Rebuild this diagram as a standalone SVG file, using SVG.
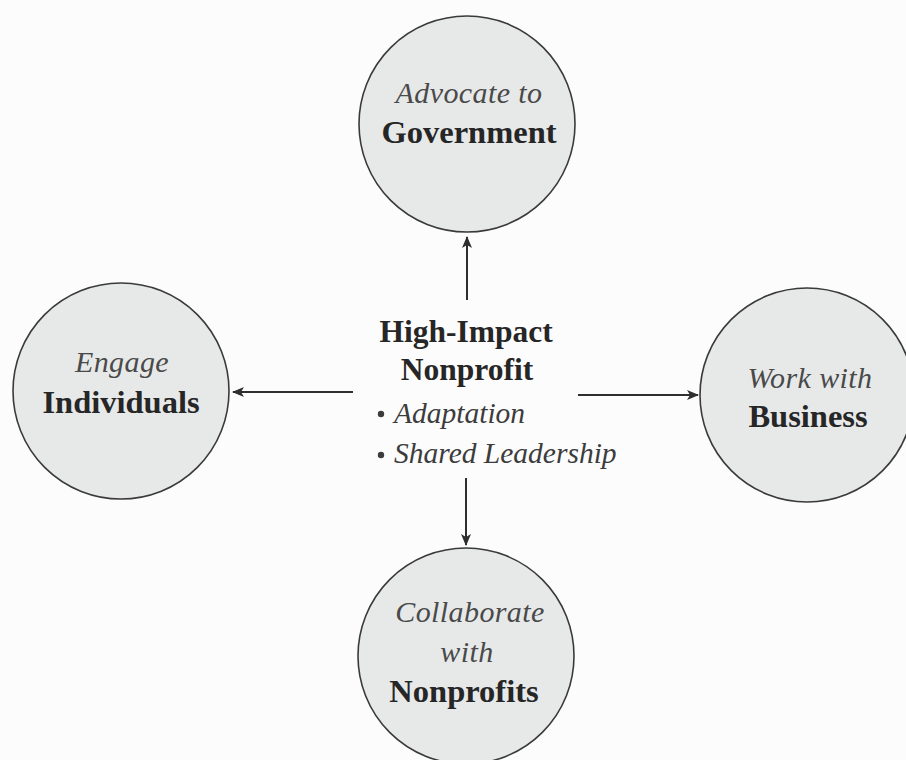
<svg xmlns="http://www.w3.org/2000/svg" width="906" height="760" viewBox="0 0 906 760">
  <defs>
    <marker id="arrow" viewBox="0 0 12 10" refX="11" refY="5" markerWidth="12" markerHeight="10" markerUnits="userSpaceOnUse" orient="auto">
      <path d="M0,0 L12,5 L0,10 L3,5 Z" fill="#2e2e2e"/>
    </marker>
  </defs>
  <style>
    .bg { fill: #fcfcfc; }
    .disc { fill: #e7e9e9; stroke: #3a3a3a; stroke-width: 1.6; }
    .lead { font-family: "Liberation Serif", "Times New Roman", serif; font-style: italic; font-size: 30px; letter-spacing: 0.4px; fill: #4a4a4a; text-anchor: middle; }
    .main { font-family: "Liberation Serif", "Times New Roman", serif; font-weight: bold; font-size: 32.5px; fill: #262626; text-anchor: middle; }
    .hub { font-family: "Liberation Serif", "Times New Roman", serif; font-weight: bold; font-size: 31.5px; fill: #262626; text-anchor: middle; }
    .item { font-family: "Liberation Serif", "Times New Roman", serif; font-style: italic; font-size: 29.5px; fill: #3c3c3c; }
    .dot { fill: #3c3c3c; }
    .link { stroke: #2e2e2e; stroke-width: 2; fill: none; marker-end: url(#arrow); }
  </style>

  <rect class="bg" x="0" y="0" width="906" height="760"/>

  <!-- connectors from the hub out to each partner -->
  <g id="connectors">
    <line class="link" x1="467" y1="300" x2="467" y2="237"/>
    <line class="link" x1="353" y1="392" x2="233" y2="392"/>
    <line class="link" x1="578" y1="395" x2="698" y2="395"/>
    <line class="link" x1="466" y1="478" x2="466" y2="545"/>
  </g>

  <!-- central hub -->
  <g id="hub">
    <text class="hub" x="466" y="342">High-Impact</text>
    <text class="hub" x="467" y="380">Nonprofit</text>
    <circle class="dot" cx="381" cy="414" r="3.2"/>
    <text class="item" x="394" y="423">Adaptation</text>
    <circle class="dot" cx="381" cy="455" r="3.2"/>
    <text class="item" x="394" y="463">Shared Leadership</text>
  </g>

  <g id="government">
    <circle class="disc" cx="467" cy="124" r="108"/>
    <text class="lead" x="469" y="103">Advocate to</text>
    <text class="main" x="469" y="143">Government</text>
  </g>

  <g id="individuals">
    <circle class="disc" cx="121" cy="391" r="108"/>
    <text class="lead" x="122" y="372">Engage</text>
    <text class="main" x="121" y="413">Individuals</text>
  </g>

  <g id="business">
    <circle class="disc" cx="807" cy="395" r="107"/>
    <text class="lead" x="810" y="388">Work with</text>
    <text class="main" x="808" y="427">Business</text>
  </g>

  <g id="nonprofits">
    <circle class="disc" cx="466" cy="656" r="108"/>
    <text class="lead" x="470" y="622">Collaborate</text>
    <text class="lead" x="467" y="662">with</text>
    <text class="main" x="464" y="702">Nonprofits</text>
  </g>
</svg>
